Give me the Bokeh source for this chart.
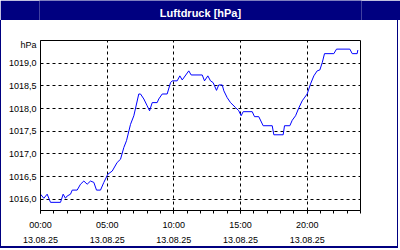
from bokeh.plotting import figure
from bokeh.layouts import column
from bokeh.models import FixedTicker, Range1d
from bokeh.core.properties import value
from bokeh.embed import file_html
from bokeh.resources import INLINE

title_text = "Luftdruck [hPa]"
unit_text = "hPa"

hours = [0.0, 0.25, 0.5, 0.75, 1.5, 1.7, 1.87, 2.0, 2.25, 2.38, 2.75, 3.0, 3.25, 3.5, 3.75,
         4.0, 4.2, 4.5, 4.75, 5.05, 5.38, 5.75, 6.0, 6.25, 6.45, 6.75, 7.0, 7.37, 7.5, 7.75,
         8.0, 8.18, 8.38, 8.75, 8.87, 9.13, 9.5, 9.75, 9.88, 10.25, 10.45, 10.63, 11.12, 11.3,
         12.13, 12.3, 12.55, 12.75, 12.95, 13.2, 13.37, 13.63, 13.75, 14.0, 14.25, 14.63, 14.87,
         15.05, 15.2, 15.88, 16.05, 16.37, 16.7, 17.38, 17.5, 18.2, 18.3, 18.7, 18.88, 19.13,
         19.37, 19.63, 20.0, 20.25, 20.5, 20.75, 20.95, 21.13, 21.3, 22.0, 22.2, 23.2, 23.38,
         23.75, 23.8]
pressure = [1016.11, 1016.02, 1016.11, 1015.93, 1015.93, 1016.11, 1016.02, 1016.07, 1016.11,
            1016.20, 1016.20, 1016.33, 1016.40, 1016.33, 1016.40, 1016.37, 1016.20, 1016.20,
            1016.37, 1016.55, 1016.62, 1016.81, 1016.88, 1017.14, 1017.29, 1017.65, 1017.84,
            1018.32, 1018.32, 1018.21, 1018.06, 1017.95, 1018.13, 1018.13, 1018.21, 1018.32,
            1018.32, 1018.57, 1018.61, 1018.61, 1018.72, 1018.63, 1018.83, 1018.74, 1018.74,
            1018.61, 1018.72, 1018.61, 1018.57, 1018.40, 1018.52, 1018.52, 1018.39, 1018.24,
            1018.13, 1018.02, 1017.95, 1017.84, 1017.93, 1017.93, 1017.82, 1017.82, 1017.62,
            1017.62, 1017.42, 1017.42, 1017.62, 1017.62, 1017.74, 1017.84, 1018.01, 1018.17,
            1018.32, 1018.54, 1018.72, 1018.83, 1018.85, 1019.01, 1019.21, 1019.21, 1019.31,
            1019.31, 1019.21, 1019.21, 1019.29]

x_tick_hours = [0, 5, 10, 15, 20]
x_tick_labels = ["00:00\n13.08.25", "05:00\n13.08.25", "10:00\n13.08.25",
                 "15:00\n13.08.25", "20:00\n13.08.25"]
x_minor_hours = list(range(0, 25))
y_ticks = [1016.0, 1016.5, 1017.0, 1017.5, 1018.0, 1018.5, 1019.0]
y_tick_labels = ["1016,0", "1016,5", "1017,0", "1017,5", "1018,0", "1018,5", "1019,0"]
unit_pos = 1019.39

NAVY = "#000080"
FONT = "Liberation Sans"

# title bar
head = figure(width=400, height=20, output_backend="svg", toolbar_location=None,
              x_range=Range1d(0, 400), y_range=Range1d(0, 20),
              min_border=0, min_border_left=0, min_border_right=0,
              min_border_top=0, min_border_bottom=0)
head.axis.visible = False
head.grid.visible = False
head.outline_line_color = None
head.background_fill_color = NAVY
head.border_fill_color = NAVY
head.text(x=[200], y=[8], text=[title_text], text_color="white",
          text_font=value(FONT), text_font_style="bold", text_font_size="11px",
          text_align="center", text_baseline="alphabetic")

# main chart
p = figure(width=398, height=228, output_backend="svg", toolbar_location=None,
           x_range=Range1d(0, 24), y_range=Range1d(1015.75, 1019.5),
           min_border_left=39, min_border_right=39, min_border_top=20, min_border_bottom=38)
p.styles = {"border-left": f"1px solid {NAVY}", "border-right": f"1px solid {NAVY}",
            "border-bottom": f"2px solid {NAVY}"}
p.background_fill_color = "white"
p.border_fill_color = "white"
p.outline_line_color = "black"
p.outline_line_width = 1

xa = p.xaxis[0]
xa.ticker = FixedTicker(ticks=x_tick_hours, minor_ticks=x_minor_hours)
xa.major_label_overrides = dict(zip(x_tick_hours, x_tick_labels))
xa.major_tick_in = 0
xa.major_tick_out = 3
xa.minor_tick_in = 0
xa.minor_tick_out = 3
xa.axis_line_color = "black"
xa.major_tick_line_color = "black"
xa.minor_tick_line_color = "black"
xa.major_label_text_font = FONT
xa.major_label_text_font_size = "9px"
xa.major_label_text_color = "black"
xa.major_label_text_line_height = 1.5
xa.major_label_standoff = 6

ya = p.yaxis[0]
ya.ticker = FixedTicker(ticks=y_ticks + [unit_pos], minor_ticks=[])
ya.major_label_overrides = dict(zip(y_ticks + [unit_pos], y_tick_labels + [unit_text]))
ya.major_tick_in = 0
ya.major_tick_out = 0
ya.minor_tick_out = 0
ya.axis_line_color = "black"
ya.major_label_text_font = FONT
ya.major_label_text_font_size = "9px"
ya.major_label_text_color = "black"
ya.major_label_standoff = 4

p.ygrid[0].ticker = FixedTicker(ticks=y_ticks)
for g in (p.xgrid[0], p.ygrid[0]):
    g.grid_line_color = "black"
    g.grid_line_dash = "3 3"
    g.grid_line_width = 1

p.line(hours, pressure, line_color="#0000ff", line_width=1)

layout = column(head, p, spacing=0)
open("out.html", "w").write(file_html(layout, INLINE))
